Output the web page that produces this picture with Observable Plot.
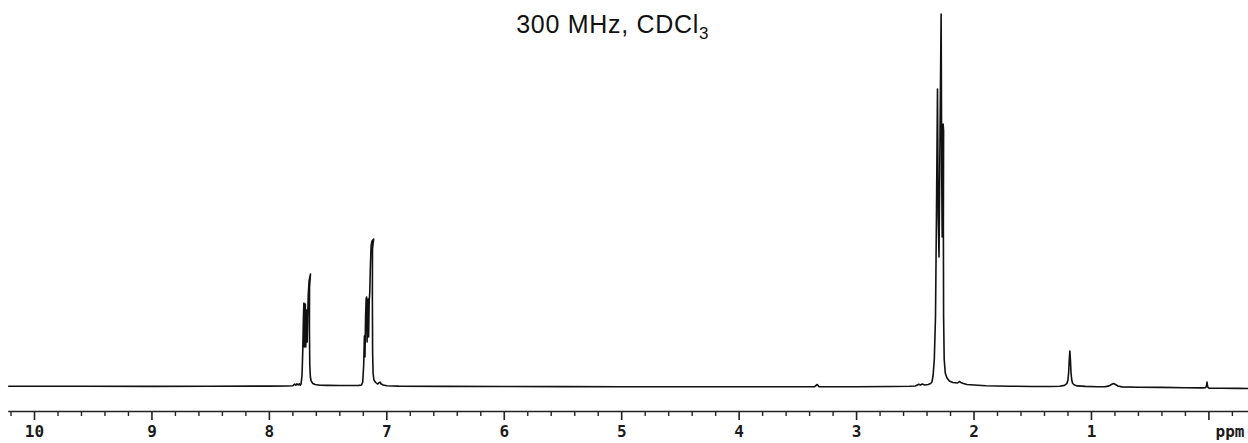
<!DOCTYPE html>
<html>
<head>
<meta charset="utf-8">
<script src="https://cdn.jsdelivr.net/npm/d3@7"></script>
<script src="https://cdn.jsdelivr.net/npm/@observablehq/plot@0.6"></script>
<style>
  html, body { margin: 0; padding: 0; background: white; }
  #wrap { position: relative; width: 1248px; height: 443px; }
  #title { position: absolute; top: 12px; left: 612.7px; transform: translateX(-50%);
           font-family: "Liberation Sans", Arial, sans-serif; font-size: 25px; line-height: 25px;
           color: #111; white-space: nowrap; letter-spacing: 0.7px; }
  #title .sub { font-size: 17px; vertical-align: -6px; }
</style>
</head>
<body>
<div id="wrap">
  <div id="title">300 MHz, CDCl<span class="sub">3</span></div>
</div>
<script>
// Spectrum trace (chemical shift in ppm, intensity in arbitrary units)
const ppm = [
  10.22, 9.6, 9.0, 8.5, 8.0, 7.85, 7.80, 7.785, 7.775, 7.765, 7.755, 7.745, 7.738,
  7.730, 7.722, 7.716, 7.710, 7.706, 7.702, 7.698, 7.694, 7.690, 7.686, 7.682, 7.678, 7.674, 7.669, 7.662, 7.650,
  7.658, 7.659, 7.656, 7.651, 7.644, 7.630, 7.610, 7.57, 7.50, 7.40, 7.30, 7.24,
  7.215, 7.205, 7.197, 7.191, 7.186, 7.181, 7.176, 7.172, 7.168, 7.164, 7.159, 7.155, 7.150, 7.145, 7.140, 7.134, 7.126, 7.112,
  7.122, 7.123, 7.121, 7.117, 7.110, 7.095, 7.080, 7.068, 7.058, 7.048, 7.03, 7.0, 6.9,
  6.5, 6.0, 5.5, 5.0, 4.5, 4.0, 3.6, 3.36, 3.335, 3.32, 3.0, 2.7, 2.55,
  2.50, 2.47, 2.455, 2.44, 2.42, 2.39, 2.37, 2.358, 2.348, 2.338, 2.328, 2.320, 2.311, 2.305, 2.298, 2.289, 2.280,
  2.275, 2.271, 2.267, 2.263, 2.259, 2.261, 2.259, 2.254, 2.245, 2.230, 2.210, 2.180, 2.140, 2.125, 2.112, 2.090, 2.06, 2.0, 1.9, 1.7, 1.5, 1.35,
  1.27, 1.23, 1.21, 1.200, 1.194, 1.189, 1.184, 1.179, 1.174, 1.168, 1.160, 1.145, 1.12, 1.05, 0.95,
  0.88, 0.85, 0.83, 0.812, 0.795, 0.775, 0.74, 0.6, 0.4, 0.2, 0.06,
  0.03, 0.022, 0.016, 0.010, 0.0, -0.1, -0.25, -0.33
];
const intensity = [
  0.8, 0.8, 0.6, 0.8, 0.9, 1.0, 1.3, 2.8, 1.8, 3.2, 2.2, 3.2, 1.8,
  3, 12, 35, 70, 84, 40, 78, 83, 40, 72, 77, 45, 68, 92, 106, 113,
  100, 60, 22, 10, 6, 3.5, 2.5, 1.8, 1.6, 1.5, 1.5, 1.6,
  2, 5, 22, 51, 30, 70, 88, 90, 45, 82, 88, 50, 86, 95, 120, 141, 146, 148,
  138, 90, 35, 14, 7, 4.5, 3, 4, 5, 3, 2, 1.3, 0.9,
  0.6, 0.5, 0.4, 0.3, 0.3, 0.2, 0.2, 0.2, 2.5, 0.2, 0.3, 0.5, 0.7,
  1, 2.8, 2, 3, 2, 2.5, 3.5, 5, 12, 28, 70, 170, 298, 170, 130, 260, 373,
  210, 150, 235, 263, 256, 160, 70, 28, 14, 9, 6, 4.5, 4, 5.5, 4.5, 3.5, 2.5, 2, 1.2, 0.8, 0.5, 0.5,
  0.8, 1.6, 3.3, 7, 15, 27, 36, 27, 14, 7, 3.5, 2, 1.1, 0.6, 0.3,
  0.4, 1.1, 2.5, 3.5, 2.5, 1.0, 0.1, -0.2, -0.4, -0.7, -0.9,
  -0.7, 0.5, 5, 0, -1.1, -1.3, -1.4, -1.5
];

// Axis ticks and labels
const majorTicks = [10, 9, 8, 7, 6, 5, 4, 3, 2, 1, 0];
const tickLabels = ["10", "9", "8", "7", "6", "5", "4", "3", "2", "1", ""];
const minorTicks = d3.range(-1, 52).map(i => Math.round(i * 2) / 10).filter(v => v <= 10.2 && !Number.isInteger(v));
const unitLabel = "ppm";
const unitPosition = -0.18;
const axisStart = 10.22, axisEnd = -0.34;

const trace = ppm.map((p, i) => ({ppm: p, h: intensity[i]}));
const labelFor = new Map(majorTicks.map((v, i) => [v, tickLabels[i]]));
const yMin = -24.5;

const chart = Plot.plot({
  width: 1248,
  height: 443,
  marginTop: 0,
  marginRight: 0,
  marginBottom: 32,
  marginLeft: 0,
  x: {domain: [10.2895, -0.3372]},
  y: {domain: [yMin, 386.5], axis: null},
  style: {fontFamily: "'DejaVu Sans Mono', monospace", fontSize: "16px", fontWeight: "bold", color: "#1a1a1a", background: "transparent"},
  marks: [
    Plot.ruleY([yMin], {x1: axisStart, x2: axisEnd, stroke: "#222", strokeWidth: 1.6}),
    Plot.axisX(minorTicks, {anchor: "bottom", tickSize: 5, tickFormat: () => "", stroke: "#222", strokeWidth: 1.4, label: null}),
    Plot.axisX(majorTicks, {anchor: "bottom", tickSize: 9, tickPadding: 5, tickFormat: d => labelFor.get(d), stroke: "#222", strokeWidth: 1.6, label: null}),
    Plot.text([unitLabel], {x: unitPosition, frameAnchor: "bottom", dy: 14, lineAnchor: "top", fill: "#1a1a1a"}),
    Plot.line(trace, {x: "ppm", y: "h", stroke: "#111", strokeWidth: 1.6})
  ]
});
document.getElementById("wrap").prepend(chart);
</script>
</body>
</html>
